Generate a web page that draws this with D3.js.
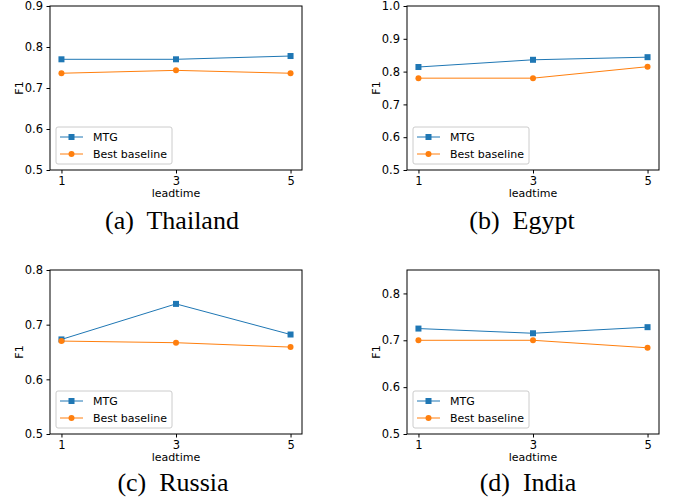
<!DOCTYPE html>
<html>
<head>
<meta charset="utf-8">
<script src="https://cdn.jsdelivr.net/npm/d3@7"></script>
<style>
  body { margin: 0; background: #fff; }
  svg { display: block; }
  .tick text { font-family: "DejaVu Sans", sans-serif; font-size: 11.5px; fill: #000; }
  .lbl { font-family: "DejaVu Sans", sans-serif; font-size: 11px; fill: #000; }
  .cap { font-family: "Liberation Serif", "Times New Roman", serif; font-size: 26px; fill: #000; }
</style>
</head>
<body>
<svg width="675" height="500"></svg>
<script>
const leadtimes = [1, 3, 5];
const countries = ["Thailand", "Egypt", "Russia", "India"];
const letters = ["a", "b", "c", "d"];
const seriesNames = ["MTG", "Best baseline"];

// F1 values
const mtgThailand = [0.770, 0.770, 0.778];
const baseThailand = [0.736, 0.743, 0.736];
const mtgEgypt = [0.814, 0.836, 0.844];
const baseEgypt = [0.780, 0.780, 0.815];
const mtgRussia = [0.673, 0.738, 0.682];
const baseRussia = [0.670, 0.667, 0.659];
const mtgIndia = [0.725, 0.715, 0.728];
const baseIndia = [0.700, 0.700, 0.684];

const yMax = [0.9, 1.0, 0.8, 0.85];
const yTicks = [
  [0.5, 0.6, 0.7, 0.8, 0.9],
  [0.5, 0.6, 0.7, 0.8, 0.9, 1.0],
  [0.5, 0.6, 0.7, 0.8],
  [0.5, 0.6, 0.7, 0.8]
];

const mtgAll = [mtgThailand, mtgEgypt, mtgRussia, mtgIndia];
const baseAll = [baseThailand, baseEgypt, baseRussia, baseIndia];

const colors = ["#1f77b4", "#ff7f0e"];

const svg = d3.select("svg");
const pw = 252, ph = 164;
const origins = [[50, 6], [407, 6], [50, 270], [407, 270]];
const capX = [172, 522, 173, 528];
const capY = [229, 229, 491, 491];

countries.forEach((country, i) => {
  const [ox, oy] = origins[i];
  const g = svg.append("g").attr("transform", `translate(${ox},${oy})`);

  const x = d3.scaleLinear().domain([0.8, 5.2]).range([0, pw]);
  const y = d3.scaleLinear().domain([0.5, yMax[i]]).range([ph, 0]);

  g.append("g")
    .attr("transform", `translate(0,${ph})`)
    .call(d3.axisBottom(x).tickValues(leadtimes).tickSize(3.5).tickPadding(3.5).tickFormat(d3.format("d")))
    .call(a => a.select(".domain").remove());

  g.append("g")
    .call(d3.axisLeft(y).tickValues(yTicks[i]).tickSize(3.5).tickPadding(3.5).tickFormat(d3.format(".1f")))
    .call(a => a.select(".domain").remove());

  g.append("rect")
    .attr("width", pw).attr("height", ph)
    .attr("fill", "none").attr("stroke", "#000").attr("stroke-width", 1);

  const series = [mtgAll[i], baseAll[i]];
  const line = d3.line().x((d, j) => x(leadtimes[j])).y(d => y(d));

  series.forEach((vals, s) => {
    g.append("path")
      .datum(vals)
      .attr("d", line)
      .attr("fill", "none")
      .attr("stroke", colors[s])
      .attr("stroke-width", 1);

    if (s === 0) {
      g.selectAll(null).data(vals).enter().append("rect")
        .attr("x", (d, j) => x(leadtimes[j]) - 3)
        .attr("y", d => y(d) - 3)
        .attr("width", 6).attr("height", 6)
        .attr("fill", colors[s]);
    } else {
      g.selectAll(null).data(vals).enter().append("circle")
        .attr("cx", (d, j) => x(leadtimes[j]))
        .attr("cy", d => y(d))
        .attr("r", 3)
        .attr("fill", colors[s]);
    }
  });

  // legend
  const lg = g.append("g").attr("transform", `translate(6,${ph - 43})`);
  lg.append("rect")
    .attr("width", 116).attr("height", 37).attr("rx", 2)
    .attr("fill", "#fff").attr("fill-opacity", 0.8)
    .attr("stroke", "#ccc").attr("stroke-width", 1);
  seriesNames.forEach((name, s) => {
    const ry = 10 + s * 17;
    lg.append("line")
      .attr("x1", 4).attr("x2", 27).attr("y1", ry).attr("y2", ry)
      .attr("stroke", colors[s]).attr("stroke-width", 1);
    if (s === 0) {
      lg.append("rect").attr("x", 12.5).attr("y", ry - 3).attr("width", 6).attr("height", 6).attr("fill", colors[s]);
    } else {
      lg.append("circle").attr("cx", 15.5).attr("cy", ry).attr("r", 3).attr("fill", colors[s]);
    }
    lg.append("text").attr("class", "lbl")
      .attr("x", 37).attr("y", ry + 4)
      .text(name);
  });

  g.append("text").attr("class", "lbl")
    .attr("x", pw / 2).attr("y", ph + 27)
    .attr("text-anchor", "middle")
    .text("leadtime");

  g.append("text").attr("class", "lbl")
    .attr("transform", `translate(-27,${ph / 2}) rotate(-90)`)
    .attr("text-anchor", "middle")
    .text("F1");

  svg.append("text").attr("class", "cap")
    .attr("x", capX[i]).attr("y", capY[i])
    .attr("text-anchor", "middle")
    .attr("xml:space", "preserve")
    .text(`(${letters[i]})  ${country}`);
});
</script>
</body>
</html>
